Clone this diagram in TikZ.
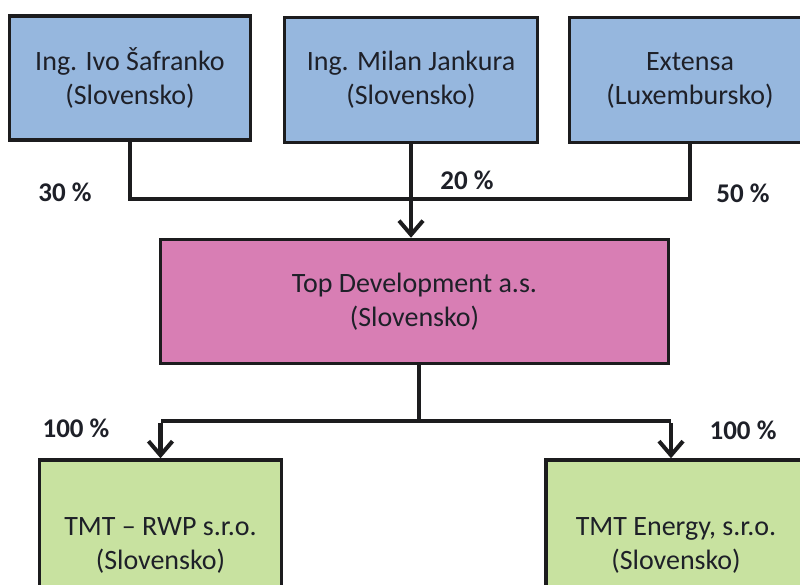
\documentclass[tikz,border=0pt]{standalone}
\usepackage{fontspec}
\setmainfont{Carlito}
\usetikzlibrary{arrows.meta}
\definecolor{boxblue}{RGB}{150,183,222}
\definecolor{boxpink}{RGB}{216,126,180}
\definecolor{boxgreen}{RGB}{200,226,160}
\definecolor{ink}{RGB}{28,28,30}
\definecolor{txt}{RGB}{30,32,40}
\tikzset{
  orgbox/.style={draw=ink, line width=3.5pt, inner sep=0pt, align=center,
    text=txt, font=\fontsize{28}{34}\selectfont},
  conn/.style={draw=ink, line width=4.5pt},
  arr/.style={conn, -{Straight Barb[length=14pt,width=24pt,line width=4pt]}},
  pct/.style={text=txt, font=\fontsize{27}{32}\selectfont\bfseries, inner sep=0pt}
}
\begin{document}
\begin{tikzpicture}[x=1pt,y=-1pt]
\useasboundingbox (0,0) rectangle (800,584);
\fill[white] (0,0) rectangle (800,584);
% owners
\node[orgbox, fill=boxblue, minimum width=241pt, minimum height=124pt] (b1) at (130,78) {Ing. Ivo Šafranko\\(Slovensko)};
\node[orgbox, fill=boxblue, minimum width=253pt, minimum height=125pt] (b2) at (411,80) {Ing. Milan Jankura\\(Slovensko)};
\node[orgbox, fill=boxblue, minimum width=241pt, minimum height=125pt] (b3) at (690,80) {Extensa\\(Luxembursko)};
% company
\node[orgbox, fill=boxpink, minimum width=508pt, minimum height=124pt] (top) at (414.5,301.5) {Top Development a.s.\\(Slovensko)};
% subsidiaries
\node[orgbox, fill=boxgreen, minimum width=242pt, minimum height=170pt] (gl) at (160.5,545) {TMT -- RWP s.r.o.\\(Slovensko)};
\node[orgbox, fill=boxgreen, minimum width=260pt, minimum height=170pt] (gr) at (676,545) {TMT Energy, s.r.o.\\(Slovensko)};
% junctions
\coordinate (j1) at (411,199);
\coordinate (j2) at (419,421);
% top connectors
\draw[conn, line join=miter] (b1.south) |- (j1) -| (b3.south);
\draw[arr] (b2.south) -- (b2.south |- top.north);
% bottom connectors
\draw[conn] (top.south -| j2) -- (j2);
\draw[conn] (j2) -| ([xshift=0pt]gl.north |- j2);
\draw[conn] (j2) -- ([xshift=-5pt]gr.north |- j2);
\draw[arr] ([yshift=-2pt]gl.north |- j2) -- (gl.north);
\draw[arr] ([xshift=-5pt,yshift=-2pt]gr.north |- j2) -- ([xshift=-5pt]gr.north);
% percentages
\node[pct] (p1) at (65,192) {30 \%};
\node[pct] (p2) at (467,180) {20 \%};
\node[pct] (p3) at (743,193) {50 \%};
\node[pct] (p4) at (76,428) {100 \%};
\node[pct] (p5) at (743,430) {100 \%};
\end{tikzpicture}
\end{document}
